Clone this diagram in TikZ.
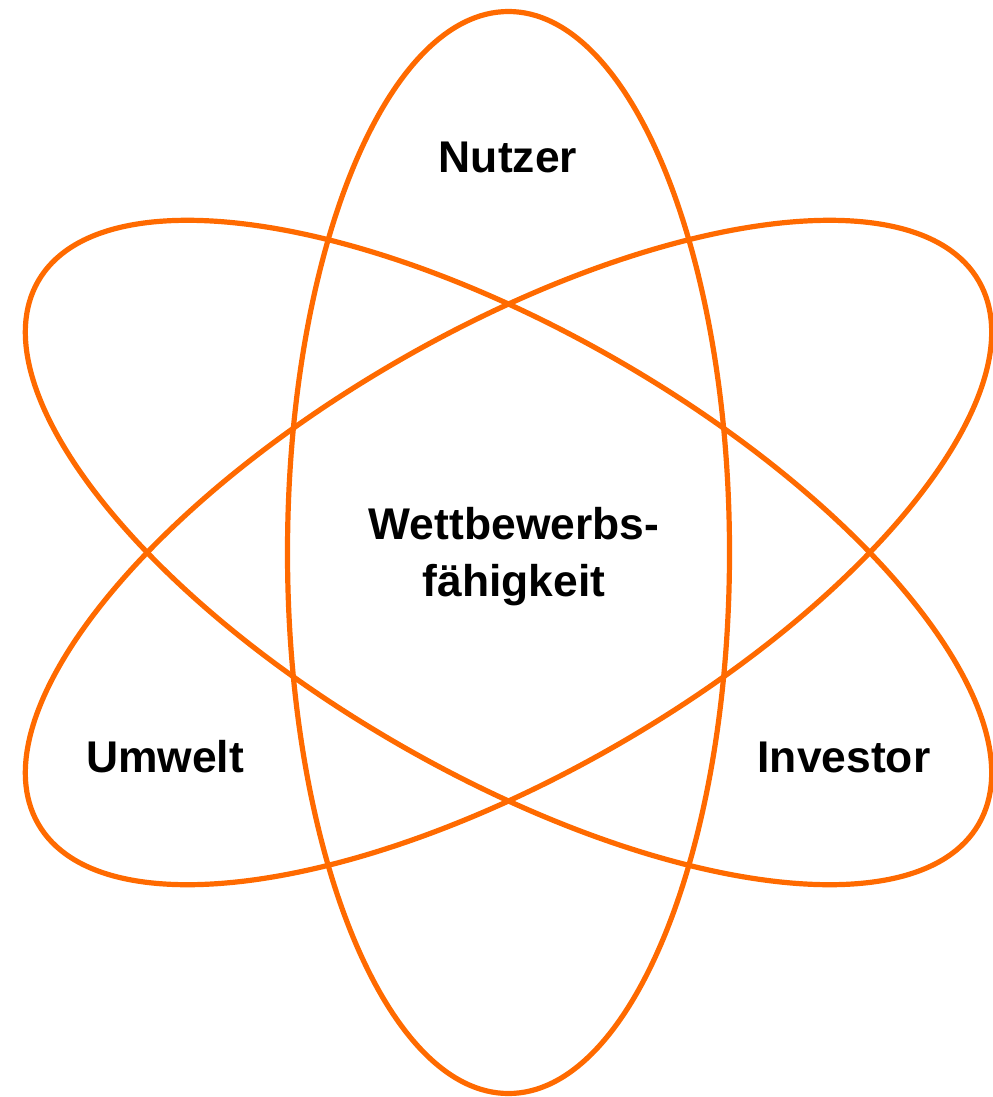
\documentclass[tikz,border=0pt]{standalone}
\usepackage{fontspec}
\setmainfont{Liberation Sans}
\definecolor{atomorange}{HTML}{FF6A00}
\begin{document}
\begin{tikzpicture}[x=0.5pt,y=-0.5pt,
  orbit/.style={draw=atomorange,line width=2.6pt},
  lbl/.style={font=\fontsize{22.2}{27}\selectfont\bfseries,anchor=base,inner sep=0pt}]
\useasboundingbox (0,0) rectangle (992,1097);
\coordinate (c) at (508.5,552.5);
\draw[orbit] (c) ellipse [x radius=221, y radius=541];
\draw[orbit,rotate around={60:(c)}] (c) ellipse [x radius=221, y radius=543];
\draw[orbit,rotate around={-60:(c)}] (c) ellipse [x radius=221, y radius=543];
\node[lbl] (nutzer) at (508,172) {Nutzer};
\node[lbl] (wett1) at (514,539) {Wettbewerbs-};
\node[lbl] (wett2) at (514,596) {fähigkeit};
\node[lbl] (umwelt) at (165,772) {Umwelt};
\node[lbl] (investor) at (844,772) {Investor};
\end{tikzpicture}
\end{document}
